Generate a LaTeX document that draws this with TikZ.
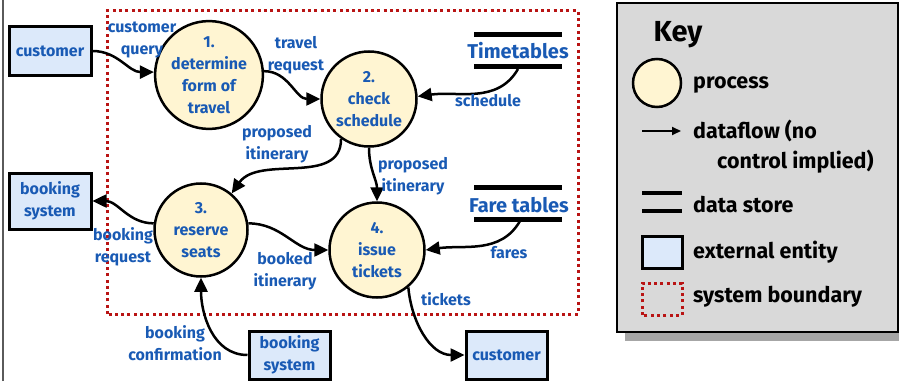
\documentclass[tikz,border=0pt]{standalone}
\usepackage{fontspec}
\setmainfont{Fira Sans}
\usetikzlibrary{arrows.meta}

\definecolor{flowblue}{RGB}{25,90,180}
\definecolor{proccream}{RGB}{255,245,210}
\definecolor{entityblue}{RGB}{220,233,250}
\definecolor{boundred}{RGB}{185,20,20}
\definecolor{keygray}{RGB}{217,217,217}
\definecolor{shadowgray}{RGB}{166,166,166}
\definecolor{edgegray}{RGB}{90,90,90}

\begin{document}
\begin{tikzpicture}[x=1pt,y=1pt,
  every node/.style={font=\fontsize{16}{22}\selectfont\bfseries, text=flowblue,
    align=center, inner sep=0pt},
  process/.style={circle, draw=black, line width=2.5pt, fill=proccream, minimum size=95pt},
  entity/.style={rectangle, draw=black, line width=3pt, fill=entityblue,
    minimum width=82pt, minimum height=49pt},
  storename/.style={font=\fontsize{20}{24}\selectfont\bfseries},
  storebar/.style={line width=5pt},
  flow/.style={line width=2.5pt, -{Triangle[length=14pt,width=13pt]}},
  boundary/.style={draw=boundred, line width=3pt, dash pattern=on 3pt off 3.3pt},
  keytext/.style={text=black, anchor=west, font=\fontsize{21.5}{25}\selectfont\bfseries},
]
\useasboundingbox (0,0) rectangle (899,381);

% page edge rule
\draw[edgegray, line width=2pt] (2.5,0) -- (2.5,381);

% system boundary
\draw[boundary] (107,67) rectangle (578,370);

% processes
\node[process] (p1) at (209,306) {1.\\determine\\form of\\travel};
\node[process] (p2) at (369,282) {2.\\check\\schedule};
\node[process, minimum size=93pt] (p3) at (201,151) {3.\\reserve\\seats};
\node[process] (p4) at (377,131) {4.\\issue\\tickets};

% external entities
\node[entity] (cust1) at (50,330) {customer};
\node[entity, minimum height=56pt] (book1) at (50,180) {booking\\system};
\node[entity, minimum width=81pt, minimum height=48pt] (book2) at (289.5,26) {booking\\system};
\node[entity, minimum width=81pt, minimum height=48pt] (cust2) at (506.5,26) {customer};

% data stores
\node[storename] (ttab) at (518,330) {Timetables};
\draw[storebar] (474,346) -- (562,346);
\draw[storebar] (474,314) -- (562,314);
\coordinate (ttabout) at (518,312);
\node[storename] (ftab) at (519,176) {Fare tables};
\draw[storebar] (474,194) -- (562,194);
\draw[storebar] (474,162) -- (562,162);
\coordinate (ftabout) at (520,160);

% dataflows
\draw[flow] (cust1.east) to[out=0,in=180] (p1.177);
\draw[flow] (p1.4) to[out=0,in=180] (p2.west);
\draw[flow] (ttabout) to[out=-120,in=8] (p2.3);
\draw[flow] (p2.235) to[out=-90,in=55] (p3.50);
\draw[flow] (p2.south) to[out=-90,in=90] (p4.north);
\draw[flow] (p3.172) to[out=180,in=0] (book1.east);
\draw[flow] (p3.8) to[out=0,in=180] (p4.west);
\draw[flow] (ftabout) to[out=-120,in=8] (p4.east);
\draw[flow] (p4.-50) to[out=-85,in=180] (cust2.west);
\draw[flow] (book2.west) to[out=180,in=-90] (p3.south);

% dataflow labels
\node (lq)  at (142,341) {customer\\query};
\node (lr)  at (296,326) {travel\\request};
\node (ls)  at (488,280) {schedule};
\node (lp1) at (277,237) {proposed\\itinerary};
\node (lp2) at (413,205) {proposed\\itinerary};
\node (lb)  at (123,134) {booking\\request};
\node (lbi) at (285,110) {booked\\itinerary};
\node (lf)  at (509,128) {fares};
\node (lt)  at (446,82)  {tickets};
\node (lc)  at (175,38)  {booking\\confirmation};

% key panel
\fill[shadowgray] (625,40) rectangle (910,370);
\draw[fill=keygray, line width=2.5pt] (617,49) rectangle (898,378);
\node[text=black, font=\fontsize{29}{32}\selectfont\bfseries] (keytitle) at (678,346) {Key};
\node[process, minimum size=48pt] (kproc) at (657,298) {};
\node[keytext] (tproc) at (693,296) {process};
\coordinate (kfa) at (642,250);
\coordinate (kfb) at (681,250);
\draw[line width=2pt, -{Triangle[length=9pt,width=8pt]}] (kfa) -- (kfb);
\node[keytext] (tflow) at (693,250) {dataflow (no};
\node[keytext] (tflow2) at (717,219) {control implied)};
\draw[line width=4.5pt] (642,188) -- (682,188);
\draw[line width=4.5pt] (642,170) -- (682,170);
\node[keytext] (tstore) at (693,176) {data store};
\node[entity, minimum width=40pt, minimum height=32pt] (kent) at (662,129) {};
\node[keytext] (tent) at (693,129) {external entity};
\draw[boundary] (642,66) rectangle (682,98);
\node[keytext] (tbound) at (693,84) {system boundary};
\end{tikzpicture}
\end{document}
